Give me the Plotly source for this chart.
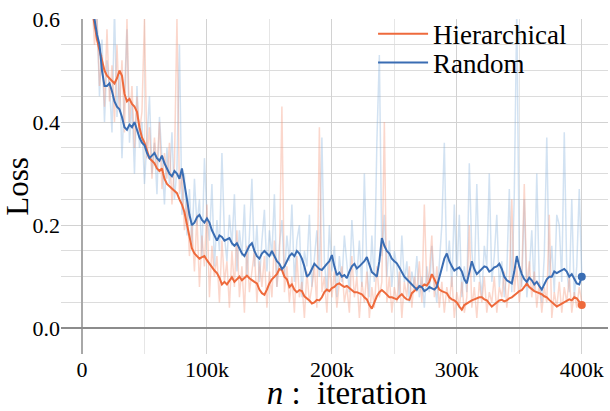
import plotly.graph_objects as go

# ---------------- data ----------------
steps = list(range(8000, 400001, 2000))

random_smooth = [
    0.62, 0.60, 0.57, 0.55, 0.50, 0.47, 0.47, 0.475, 0.46, 0.44,
    0.43, 0.425, 0.41, 0.39, 0.385, 0.395, 0.39, 0.40, 0.385, 0.37,
    0.36, 0.355, 0.34, 0.33, 0.335, 0.34, 0.33, 0.325, 0.335, 0.32,
    0.31, 0.30, 0.295, 0.305, 0.30, 0.29, 0.31, 0.28, 0.25, 0.22,
    0.20, 0.205, 0.215, 0.22, 0.21, 0.205, 0.213, 0.205, 0.19, 0.18,
    0.17, 0.18, 0.177, 0.17, 0.172, 0.175, 0.165, 0.16, 0.165, 0.155,
    0.145, 0.14, 0.15, 0.16, 0.165, 0.15, 0.14, 0.135, 0.145, 0.15,
    0.145, 0.14, 0.15, 0.14, 0.13, 0.125, 0.115, 0.12, 0.13, 0.14,
    0.145, 0.14, 0.15, 0.145, 0.135, 0.12, 0.10, 0.105, 0.115, 0.125,
    0.12, 0.115, 0.113, 0.12, 0.125, 0.13, 0.142, 0.12, 0.103, 0.108,
    0.10, 0.103, 0.097, 0.11, 0.12, 0.125, 0.116, 0.12, 0.125, 0.13,
    0.138, 0.125, 0.109, 0.105, 0.10, 0.13, 0.175, 0.16, 0.15, 0.145,
    0.135, 0.13, 0.126, 0.118, 0.11, 0.10, 0.095, 0.09, 0.085, 0.08,
    0.075, 0.082, 0.08, 0.072, 0.075, 0.08, 0.078, 0.075, 0.08, 0.10,
    0.12, 0.135, 0.145, 0.13, 0.12, 0.112, 0.115, 0.118, 0.11, 0.095,
    0.087, 0.11, 0.13, 0.115, 0.105, 0.11, 0.115, 0.12, 0.118, 0.11,
    0.113, 0.118, 0.12, 0.125, 0.115, 0.10, 0.093, 0.09, 0.087, 0.11,
    0.14, 0.12, 0.105, 0.095, 0.09, 0.098, 0.093, 0.085, 0.09, 0.082,
    0.075, 0.085, 0.095, 0.10, 0.10, 0.11, 0.107, 0.11, 0.113, 0.115,
    0.11, 0.10, 0.105, 0.095, 0.087, 0.085, 0.10,
]

hier_smooth = [
    0.62, 0.59, 0.56, 0.54, 0.52, 0.50, 0.49, 0.485, 0.48, 0.475,
    0.485, 0.50, 0.49, 0.455, 0.44, 0.445, 0.435, 0.43, 0.42, 0.39,
    0.37, 0.36, 0.345, 0.33, 0.325, 0.32, 0.31, 0.305, 0.31, 0.29,
    0.28, 0.275, 0.27, 0.265, 0.262, 0.25, 0.24, 0.225, 0.20, 0.175,
    0.155, 0.145, 0.14, 0.135, 0.138, 0.14, 0.132, 0.125, 0.118, 0.112,
    0.107, 0.098, 0.085, 0.09, 0.085, 0.093, 0.099, 0.09, 0.095, 0.10,
    0.093, 0.098, 0.102, 0.097, 0.093, 0.09, 0.087, 0.075, 0.068, 0.065,
    0.075, 0.087, 0.095, 0.10, 0.105, 0.115, 0.113, 0.10, 0.095, 0.08,
    0.085, 0.075, 0.07, 0.074, 0.072, 0.062, 0.058, 0.054, 0.048, 0.05,
    0.055, 0.054, 0.06, 0.07, 0.075, 0.072, 0.078, 0.08, 0.085, 0.087,
    0.083, 0.08, 0.082, 0.078, 0.074, 0.07, 0.07, 0.068, 0.066, 0.06,
    0.056, 0.045, 0.038, 0.05, 0.062, 0.07, 0.074, 0.07, 0.065, 0.06,
    0.06, 0.058, 0.056, 0.062, 0.066, 0.06, 0.056, 0.055, 0.068, 0.072,
    0.078, 0.08, 0.08, 0.085, 0.083, 0.09, 0.105, 0.095, 0.085, 0.075,
    0.072, 0.07, 0.068, 0.06, 0.056, 0.054, 0.05, 0.042, 0.036, 0.045,
    0.048, 0.052, 0.054, 0.056, 0.058, 0.06, 0.06, 0.056, 0.054, 0.048,
    0.042, 0.046, 0.05, 0.054, 0.055, 0.052, 0.054, 0.058, 0.06, 0.065,
    0.068, 0.072, 0.074, 0.08, 0.087, 0.08, 0.075, 0.072, 0.07, 0.068,
    0.066, 0.062, 0.06, 0.055, 0.05, 0.046, 0.042, 0.045, 0.048, 0.05,
    0.054, 0.056, 0.054, 0.06, 0.058, 0.052, 0.045,
]

random_raw = [
    0.66, 0.58, 0.61, 0.45, 0.56, 0.40, 0.52, 0.47, 0.38, 0.62,
    0.41, 0.50, 0.33, 0.46, 0.58, 0.36, 0.44, 0.30, 0.47, 0.35,
    0.40, 0.28, 0.37, 0.45, 0.30, 0.36, 0.26, 0.41, 0.33, 0.24,
    0.35, 0.28, 0.38, 0.25, 0.31, 0.55, 0.22, 0.30, 0.18, 0.27,
    0.16, 0.29, 0.20, 0.25, 0.14, 0.33, 0.22, 0.17, 0.28, 0.12,
    0.21, 0.15, 0.34, 0.18, 0.13, 0.22, 0.16, 0.26, 0.11, 0.19,
    0.14, 0.24, 0.10, 0.18, 0.29, 0.12, 0.20, 0.09, 0.17, 0.23,
    0.11, 0.19, 0.14, 0.26, 0.08, 0.16, 0.21, 0.10, 0.18, 0.13,
    0.24, 0.09, 0.17, 0.20, 0.06, 0.15, 0.12, 0.22, 0.08, 0.14,
    0.19, 0.10, 0.37, 0.13, 0.07, 0.20, 0.11, 0.16, 0.06, 0.14,
    0.09, 0.18, 0.12, 0.07, 0.21, 0.13, 0.10, 0.17, 0.08, 0.30,
    0.12, 0.06, 0.18, 0.09, 0.36, 0.53, 0.14, 0.22, 0.10, 0.17,
    0.08, 0.15, 0.12, 0.06, 0.18, 0.09, 0.13, 0.05, 0.11, 0.08,
    0.14, 0.06, 0.10, 0.04, 0.12, 0.07, 0.16, 0.09, 0.05, 0.13,
    0.20, 0.36, 0.11, 0.17, 0.08, 0.24, 0.10, 0.22, 0.06, 0.12,
    0.07, 0.32, 0.15, 0.09, 0.28, 0.11, 0.06, 0.16, 0.12, 0.30,
    0.09, 0.14, 0.22, 0.08, 0.13, 0.06, 0.11, 0.27, 0.07, 0.26,
    0.62, 0.12, 0.08, 0.25, 0.06, 0.11, 0.19, 0.07, 0.30, 0.09,
    0.05, 0.14, 0.37, 0.10, 0.16, 0.07, 0.22, 0.20, 0.09, 0.38,
    0.11, 0.07, 0.25, 0.06, 0.12, 0.27, 0.10,
]

hier_raw = [
    0.64, 0.55, 0.60, 0.47, 0.53, 0.43, 0.58, 0.44, 0.51, 0.40,
    0.55, 0.42, 0.52, 0.38, 0.60, 0.40, 0.47, 0.35, 0.45, 0.38,
    0.42, 0.60, 0.33, 0.39, 0.29, 0.37, 0.31, 0.40, 0.27, 0.34,
    0.29, 0.36, 0.24, 0.32, 0.60, 0.26, 0.30, 0.19, 0.25, 0.14,
    0.20, 0.11, 0.22, 0.08, 0.18, 0.12, 0.24, 0.06, 0.16, 0.10,
    0.14, 0.05, 0.17, 0.09, 0.13, 0.04, 0.15, 0.08, 0.19, 0.06,
    0.12, 0.03, 0.16, 0.07, 0.11, 0.15, 0.05, 0.13, 0.08, 0.14,
    0.04, 0.11, 0.06, 0.17, 0.08, 0.13, 0.43, 0.07, 0.12, 0.05,
    0.10, 0.03, 0.14, 0.06, 0.09, 0.02, 0.11, 0.05, 0.08, 0.12,
    0.04, 0.39, 0.07, 0.10, 0.03, 0.13, 0.06, 0.11, 0.04, 0.09,
    0.12, 0.05, 0.08, 0.03, 0.14, 0.06, 0.10, 0.02, 0.09, 0.05,
    0.11, 0.02, 0.08, 0.04, 0.12, 0.06, 0.09, 0.40, 0.05, 0.10,
    0.03, 0.08, 0.05, 0.11, 0.02, 0.09, 0.06, 0.12, 0.04, 0.10,
    0.07, 0.13, 0.05, 0.24, 0.08, 0.11, 0.18, 0.06, 0.12, 0.04,
    0.09, 0.03, 0.08, 0.05, 0.10, 0.02, 0.07, 0.04, 0.09, 0.03,
    0.06, 0.20, 0.04, 0.08, 0.02, 0.09, 0.05, 0.10, 0.03, 0.07,
    0.05, 0.10, 0.03, 0.08, 0.06, 0.11, 0.04, 0.09, 0.25, 0.07,
    0.12, 0.05, 0.10, 0.28, 0.08, 0.13, 0.06, 0.11, 0.04, 0.09,
    0.03, 0.08, 0.05, 0.22, 0.02, 0.07, 0.04, 0.09, 0.03, 0.08,
    0.05, 0.10, 0.03, 0.07, 0.04, 0.08, 0.05,
]

x_tickvals = [0, 100000, 200000, 300000, 400000]
x_ticktext = ["0", "100k", "200k", "300k", "400k"]
y_tickvals = [0.0, 0.2, 0.4, 0.6]
y_ticktext = ["0.0", "0.2", "0.4", "0.6"]

# ---------------- style ----------------
ORANGE = "#ee6a3c"
BLUE = "#3a6db3"
ORANGE_RAW = "rgba(245,150,120,0.38)"
BLUE_RAW = "rgba(130,175,220,0.36)"
FONT = "Liberation Serif"

fig = go.Figure()

fig.add_trace(go.Scatter(x=steps, y=random_raw, mode="lines",
                         line=dict(color=BLUE_RAW, width=1.5),
                         showlegend=False, hoverinfo="skip"))
fig.add_trace(go.Scatter(x=steps, y=hier_raw, mode="lines",
                         line=dict(color=ORANGE_RAW, width=1.5),
                         showlegend=False, hoverinfo="skip"))
fig.add_trace(go.Scatter(x=steps, y=hier_smooth, mode="lines",
                         name="Hierarchical", legend="legend",
                         line=dict(color=ORANGE, width=2)))
fig.add_trace(go.Scatter(x=steps, y=random_smooth, mode="lines",
                         name="Random", legend="legend2",
                         line=dict(color=BLUE, width=2)))
# end-point markers
fig.add_trace(go.Scatter(x=steps[-1:], y=random_smooth[-1:], mode="markers",
                         marker=dict(color=BLUE, size=8), showlegend=False))
fig.add_trace(go.Scatter(x=steps[-1:], y=hier_smooth[-1:], mode="markers",
                         marker=dict(color=ORANGE, size=8), showlegend=False))

legend_common = dict(xanchor="left", yanchor="middle", bgcolor="rgba(0,0,0,0)",
                     font=dict(size=27, family=FONT, color="black"), itemwidth=50)

fig.update_layout(
    width=610, height=411,
    margin=dict(l=61, r=2, t=19, b=57, autoexpand=False),
    paper_bgcolor="white", plot_bgcolor="white",
    font=dict(family=FONT, color="black", size=22),
    legend=dict(x=0.5705, y=0.955, **legend_common),
    legend2=dict(x=0.5705, y=0.869, **legend_common),
    xaxis=dict(
        range=[-16800, 421000], automargin=False,
        tickvals=x_tickvals, ticktext=x_ticktext,
        showgrid=True, gridcolor="#d2d2d2", gridwidth=1,
        minor=dict(dtick=50000, tick0=0, showgrid=True, gridcolor="#e6e6e6", gridwidth=1),
        zeroline=True, zerolinecolor="#a8a8a8", zerolinewidth=1.5,
        showline=False, ticks="", ticklen=0,
        tickfont=dict(size=22, family=FONT, color="black"),
        title=dict(text="&nbsp;&nbsp;&nbsp;<i>n</i>&nbsp;:&nbsp;&nbsp;iteration",
                   font=dict(size=33, family=FONT, color="black"), standoff=9),
    ),
    yaxis=dict(
        range=[-0.05, 0.6], automargin=False,
        tickvals=y_tickvals, ticktext=y_ticktext,
        showgrid=True, gridcolor="#d2d2d2", gridwidth=1,
        minor=dict(dtick=0.05, tick0=0, showgrid=True, gridcolor="#dcdcdc", gridwidth=1),
        zeroline=True, zerolinecolor="#8c8c8c", zerolinewidth=1.5,
        showline=False, ticks="", ticklen=0,
        tickfont=dict(size=22, family=FONT, color="black"),
        title=dict(text="Loss", font=dict(size=31, family=FONT, color="black"), standoff=4),
    ),
)

fig.write_html("out.html", config={"displayModeBar": False},
               post_script="document.body.style.margin='0';document.body.style.overflow='hidden';")
